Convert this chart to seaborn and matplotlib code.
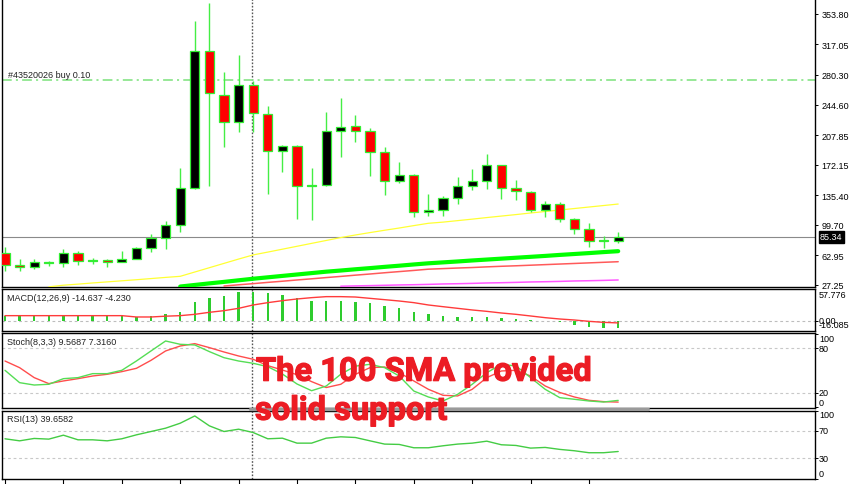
import matplotlib
matplotlib.use("Agg")
import matplotlib.pyplot as plt
import matplotlib.patheffects as pe
from matplotlib.lines import Line2D
import numpy as np
import seaborn as sns

nan = float("nan")

# --- Daily candles ---
opens = [65.8, 51.7, 48.6, 54.0, 54.1, 65.8, 56.5, 57.4, 55.3, 58.6, 71.8, 83.9, 99.9, 144.1,
         308.8, 256.5, 223.3, 268.6, 233.3, 188.3, 195.1, 147.0, 148.1, 213.2, 218.4, 212.4,
         187.1, 152.9, 159.8, 114.8, 118.0, 132.1, 146.9, 152.9, 171.8, 144.1, 139.7, 118.0,
         125.2, 106.8, 94.7, 81.4, 80.6]
highs = [73.0, 58.6, 58.6, 56.5, 70.6, 68.6, 59.8, 58.6, 67.8, 73.0, 88.7, 104.7, 167.9, 345.7,
         367.0, 283.5, 304.3, 273.4, 242.5, 196.3, 196.3, 167.9, 235.3, 252.6, 232.1, 216.0,
         193.2, 175.1, 161.0, 136.9, 134.8, 157.0, 167.0, 185.1, 172.0, 153.8, 140.0, 128.9,
         126.9, 108.0, 101.6, 85.9, 90.7]
lows = [44.0, 44.0, 46.0, 50.0, 48.9, 51.7, 52.6, 49.3, 54.6, 58.0, 66.6, 70.6, 90.7, 142.9,
        146.9, 193.2, 211.2, 211.2, 136.9, 163.0, 106.8, 106.0, 147.0, 181.8, 199.2, 159.0,
        136.0, 150.1, 108.8, 110.7, 110.7, 124.8, 142.1, 142.9, 130.9, 129.7, 114.8, 108.8,
        102.8, 88.7, 72.7, 71.8, 77.9]
closes = [51.7, 49.3, 54.6, 55.3, 65.8, 56.2, 57.5, 55.0, 58.6, 72.2, 83.9, 99.9, 144.1, 308.8,
          258.2, 223.3, 268.6, 234.1, 188.3, 195.1, 146.9, 148.0, 212.4, 217.2, 212.8, 187.1,
          152.9, 159.8, 114.8, 118.0, 132.1, 146.2, 152.9, 171.8, 144.1, 140.1, 118.0, 125.2,
          106.8, 94.7, 80.6, 80.2, 85.34]

# moving averages drawn on the price panel
ma_yellow = [nan, nan, nan, 25.0, 27.0, 28.3, 29.7, 31.0, 32.3, 33.6, 35.0, 36.4, 37.7, 42.9,
             48.1, 53.3, 58.5, 63.5, 66.9, 70.4, 73.9, 77.4, 80.9, 84.4, 87.5, 90.4, 93.2, 95.9,
             98.8, 101.6, 103.0, 104.8, 106.6, 108.5, 110.3, 112.1, 114.0, 115.8, 117.6, 119.4,
             121.2, 123.0, 124.8]
ma_green = [nan] * 12 + [25.4, 27.3, 29.2, 31.0, 32.9, 34.8, 36.5, 38.2, 39.9, 41.6, 43.3, 44.7,
                         46.2, 47.6, 49.1, 50.5, 52.0, 53.4, 54.5, 55.6, 56.8, 57.9, 59.0, 60.1,
                         61.2, 62.3, 63.5, 64.6, 65.7, 66.9, 68.0]
ma_red = [nan] * 15 + [26.0, 27.5, 28.9, 30.4, 31.8, 33.3, 34.7, 36.2, 37.6, 39.1, 40.5, 42.0,
                       43.4, 44.8, 46.3, 47.0, 47.7, 48.3, 49.1, 49.8, 50.4, 51.1, 51.8, 52.5,
                       53.2, 53.9, 54.6, 55.3]
ma_magenta = [nan] * 23 + [25.8, 26.2, 26.5, 26.9, 27.3, 27.6, 28.0, 28.5, 28.8, 29.2, 29.7,
                           30.0, 30.4, 30.9, 31.2, 31.6, 32.1, 32.4, 32.8, 33.3]

# MACD(12,26,9)
macd_hist = [9.5, 9.5, 9.5, 9.5, 9.5, 9.5, 9.5, 9.5, 9.5, 7.0, 9.5, 12.0, 17.0, 34.6, 43.4, 46.5,
             53.4, 54.7, 51.5, 48.4, 42.1, 36.5, 37.1, 37.1, 35.8, 34.0, 28.3, 23.3, 17.0, 12.0,
             8.9, 7.0, 7.0, 7.0, 5.1, 3.2, 1.3, 0.3, -3.0, -8.0, -11.5, -14.0, -14.6]
macd_signal = [9.5, 9.5, 9.5, 9.5, 9.5, 9.5, 9.5, 9.5, 9.5, 7.0, 7.0, 8.5, 9.5, 12.0, 15.8, 18.9,
               23.3, 29.6, 34.0, 37.7, 40.9, 43.4, 45.3, 45.3, 44.6, 42.1, 39.6, 37.1, 34.0, 29.6,
               26.4, 23.3, 20.2, 17.6, 14.5, 12.0, 8.9, 5.7, 3.2, 1.3, -1.2, -3.1, -4.2]

# Stochastic(8,3,3)
stoch_k = [50.3, 33.6, 30.4, 31.4, 39.0, 40.4, 45.8, 45.8, 50.3, 62.9, 76.5, 90.0, 85.5, 84.6,
           75.6, 67.4, 62.9, 59.8, 55.2, 45.3, 31.8, 22.7, 29.0, 45.0, 56.0, 58.4, 53.9, 42.6,
           22.3, 14.2, 8.8, 17.8, 31.4, 47.1, 58.4, 56.2, 40.4, 24.6, 13.3, 11.1, 8.8, 7.4, 9.6]
stoch_d = [62.9, 53.9, 40.4, 32.3, 35.9, 39.0, 42.6, 44.9, 48.5, 53.0, 63.8, 76.5, 83.2, 86.4,
           81.0, 75.1, 69.7, 65.2, 56.6, 50.7, 44.4, 35.0, 27.0, 31.4, 44.9, 53.9, 54.8, 47.1,
           35.9, 24.6, 16.5, 15.6, 24.6, 40.4, 49.4, 50.3, 42.6, 29.1, 20.3, 14.2, 9.7, 7.9, 7.3]

# RSI(13)
rsi = [58.4, 55.4, 58.9, 57.9, 63.7, 56.9, 56.9, 55.4, 58.4, 64.2, 69.1, 74.0, 81.3, 92.0, 77.4,
       69.1, 72.5, 67.6, 58.4, 59.3, 52.0, 52.0, 59.3, 61.3, 60.3, 55.4, 50.6, 50.1, 45.2, 45.2,
       48.1, 50.6, 52.0, 54.9, 49.6, 48.6, 44.7, 45.7, 42.8, 40.8, 37.9, 37.9, 39.7]

price_ticks = [27.25, 62.95, 99.70, 135.40, 172.15, 207.85, 244.60, 280.30, 317.05, 353.80]
last_price = 85.34
buy_level = 274.6
buy_label = "#43520026 buy 0.10"
cursor_bar = 16.92

macd_label = "MACD(12,26,9) -14.637 -4.230"
stoch_label = "Stoch(8,3,3) 9.5687 7.3160"
rsi_label = "RSI(13) 39.6582"
note_lines = ["The 100 SMA provided", "solid support"]

bars = np.arange(len(opens))

sns.set_theme(style="white")
plt.rcParams["font.family"] = ["Liberation Sans", "DejaVu Sans"]
plt.rcParams["lines.scale_dashes"] = False

W, H = 852, 485
fig = plt.figure(figsize=(W / 100, H / 100), dpi=100)
fig.patch.set_facecolor("white")


def panel(top, bottom):
    ax = fig.add_axes([2 / W, 1 - bottom / H, 813 / W, (bottom - top) / H])
    ax.set_facecolor("white")
    for sp in ax.spines.values():
        sp.set_color("black")
        sp.set_linewidth(1.0)
    ax.set_xlim(-0.205, 55.48)
    ax.set_xticks([])
    ax.tick_params(axis="y", which="both", left=False, right=True, labelleft=False,
                   labelright=False, direction="out", length=2.5, width=0.7, colors="black")
    ax.axvline(cursor_bar, color="#555555", lw=1.0, ls=(0, (1.2, 1.2)), zorder=1)
    return ax


def right_label(ax, val, txt, va):
    ax.annotate(txt, xy=(1, val), xycoords=("axes fraction", "data"), xytext=(4, 0),
                textcoords="offset pixels", ha="left", va=va, fontsize=6.5, color="black",
                annotation_clip=False)


def panel_title(ax, txt):
    ax.annotate(txt, xy=(0, 1), xycoords="axes fraction", xytext=(5, -4),
                textcoords="offset pixels", ha="left", va="top", fontsize=6.5, color="#222222")


ax_p = panel(0, 288)
ax_m = panel(290, 332)
ax_s = panel(334, 409)
ax_r = panel(411.5, 479.5)

# --- price panel ---
ax_p.spines["top"].set_visible(False)
ax_p.set_ylim(24.84, 371.83)
ax_p.set_yticks(price_ticks)
ax_p.set_yticklabels([f"{v:.2f}" for v in price_ticks])
ax_p.tick_params(axis="y", labelright=True, labelsize=6.5, pad=2)

ax_p.axhline(buy_level, color="#8fe68f", lw=1.3, ls=(0, (7, 3, 1.5, 3)), zorder=2)
ax_p.annotate(buy_label, xy=(0, buy_level), xycoords=("axes fraction", "data"), xytext=(6, 1),
              textcoords="offset pixels", ha="left", va="bottom", fontsize=6.5, color="#222222")
ax_p.axhline(last_price, color="#8a8a8a", lw=0.8, zorder=2)

sns.lineplot(x=bars, y=ma_yellow, ax=ax_p, color="#ffff33", linewidth=0.9, zorder=3)
sns.lineplot(x=bars, y=ma_magenta, ax=ax_p, color="#ff55ff", linewidth=1.1, zorder=3)
sns.lineplot(x=bars, y=ma_red, ax=ax_p, color="#ff5a5a", linewidth=1.1, zorder=3)
sns.lineplot(x=bars, y=ma_green, ax=ax_p, color="#00ff00", linewidth=3.0, zorder=3)

o = np.array(opens)
c = np.array(closes)
body_lo = np.minimum(o, c)
body_h = np.maximum(np.abs(c - o), 0.6)
body_col = np.where(c >= o, "black", "#ff0000")
ax_p.vlines(bars, lows, highs, color="#44ee44", lw=1.0, zorder=4)
ax_p.bar(bars, body_h, bottom=body_lo, width=0.62, color=body_col, edgecolor="#33ee33",
         linewidth=0.9, zorder=5)

ax_p.annotate(f"{last_price:.2f}", xy=(1, last_price), xycoords=("axes fraction", "data"),
              xytext=(5, 0), textcoords="offset pixels", ha="left", va="center", fontsize=6.5,
              color="white", annotation_clip=False,
              bbox=dict(boxstyle="square,pad=0.15", fc="black", ec="black"))

# --- MACD ---
ax_m.set_ylim(-19.4, 59.7)
ax_m.axhline(0, color="#bdbdbd", lw=0.8, ls=(0, (2, 2)), zorder=1)
ax_m.bar(bars, macd_hist, width=0.16, color="#2ecc2e", edgecolor="none", linewidth=0, zorder=2)
sns.lineplot(x=bars, y=macd_signal, ax=ax_m, color="#ff3b3b", linewidth=1.0, zorder=3)
ax_m.set_yticks([0])
panel_title(ax_m, macd_label)
right_label(ax_m, 57.776, "57.776", "top")
right_label(ax_m, 0, "0.00", "center")
right_label(ax_m, -16.085, "-16.085", "bottom")

# --- Stochastic ---
ax_s.set_ylim(-0.7, 100.8)
for lvl in (20, 80):
    ax_s.axhline(lvl, color="#c8c8c8", lw=0.8, ls=(0, (2, 2)), zorder=1)
sns.lineplot(x=bars, y=stoch_d, ax=ax_s, color="#ff4d4d", linewidth=1.0, zorder=2)
sns.lineplot(x=bars, y=stoch_k, ax=ax_s, color="#55dd55", linewidth=1.0, zorder=3)
ax_s.set_yticks([100, 80, 20, 0])
panel_title(ax_s, stoch_label)
for v, va in ((100, "top"), (80, "center"), (20, "center"), (0, "bottom")):
    right_label(ax_s, v, str(v), va)

# --- RSI ---
ax_r.set_ylim(0, 100)
for lvl in (30, 70):
    ax_r.axhline(lvl, color="#c8c8c8", lw=0.8, ls=(0, (2, 2)), zorder=1)
sns.lineplot(x=bars, y=rsi, ax=ax_r, color="#44cc44", linewidth=1.0, zorder=3)
ax_r.set_yticks([100, 70, 30, 0])
panel_title(ax_r, rsi_label)
for v, va in ((100, "top"), (70, "center"), (30, "center"), (0, "bottom")):
    right_label(ax_r, v, str(v), va)
ax_r.set_xticks(bars[::4])
ax_r.set_xticklabels([])
ax_r.tick_params(axis="x", bottom=True, direction="out", length=4, width=0.8, colors="black")

for ax in (ax_p, ax_m, ax_s, ax_r):
    ax.set_xlabel("")
    ax.set_ylabel("")

# --- annotation ---
fig.add_artist(Line2D([250 / W, 648 / W], [1 - 410.3 / H] * 2, color="#9a9a9a", lw=2.4, zorder=2))
thick = [pe.withStroke(linewidth=0.9, foreground="#ec1c24")]
fig.text(256 / W, 1 - 381.7 / H, note_lines[0], fontfamily="Roboto", fontweight="bold",
         fontsize=23.5, color="#ec1c24", ha="left", va="baseline", zorder=10, path_effects=thick)
fig.text(255 / W, 1 - 420.7 / H, note_lines[1], fontfamily="Roboto", fontweight="bold",
         fontsize=23.5, color="#ec1c24", ha="left", va="baseline", zorder=10, path_effects=thick)

fig.savefig("out.png", dpi=100, facecolor="white")
